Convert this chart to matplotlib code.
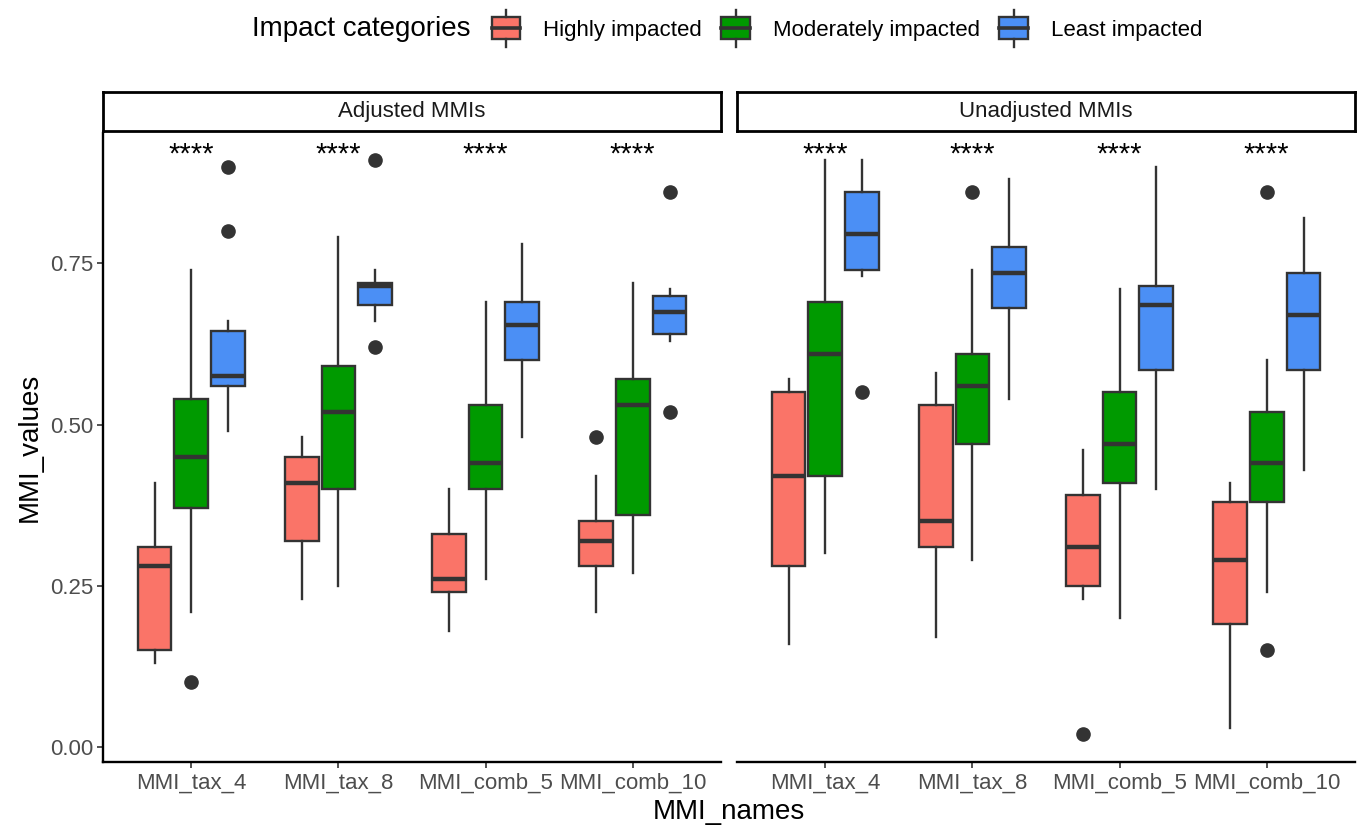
import numpy as np
import matplotlib
matplotlib.use("Agg")
import matplotlib.pyplot as plt
from matplotlib.patches import Rectangle
from matplotlib.lines import Line2D
from matplotlib.legend_handler import HandlerBase

plt.rcParams["font.family"] = ["Liberation Sans", "DejaVu Sans"]

# ---- data ----
mmi_names = ["MMI_tax_4", "MMI_tax_8", "MMI_comb_5", "MMI_comb_10"]
panel_titles = ["Adjusted MMIs", "Unadjusted MMIs"]
categories = ["Highly impacted", "Moderately impacted", "Least impacted"]
cat_colors = ["#FA7468", "#009A00", "#4B8FF5"]
signif = ["****", "****", "****", "****"]

# each row: whisker low, Q1, median, Q3, whisker high (order of mmi_names)
adj_highly = [[0.13, 0.15, 0.28, 0.31, 0.41],
              [0.23, 0.32, 0.41, 0.45, 0.48],
              [0.18, 0.24, 0.26, 0.33, 0.40],
              [0.21, 0.28, 0.32, 0.35, 0.42]]
adj_moderately = [[0.21, 0.37, 0.45, 0.54, 0.74],
                  [0.25, 0.40, 0.52, 0.59, 0.79],
                  [0.26, 0.40, 0.44, 0.53, 0.69],
                  [0.27, 0.36, 0.53, 0.57, 0.72]]
adj_least = [[0.49, 0.56, 0.575, 0.645, 0.66],
             [0.66, 0.685, 0.715, 0.72, 0.74],
             [0.48, 0.60, 0.655, 0.69, 0.78],
             [0.63, 0.64, 0.675, 0.70, 0.71]]
adj_highly_out = [[], [], [], [0.48]]
adj_moderately_out = [[0.10], [], [], []]
adj_least_out = [[0.80, 0.90], [0.62, 0.91], [], [0.52, 0.86]]

unadj_highly = [[0.16, 0.28, 0.42, 0.55, 0.57],
                [0.17, 0.31, 0.35, 0.53, 0.58],
                [0.23, 0.25, 0.31, 0.39, 0.46],
                [0.03, 0.19, 0.29, 0.38, 0.41]]
unadj_moderately = [[0.30, 0.42, 0.61, 0.69, 0.91],
                    [0.29, 0.47, 0.56, 0.61, 0.74],
                    [0.20, 0.41, 0.47, 0.55, 0.71],
                    [0.24, 0.38, 0.44, 0.52, 0.60]]
unadj_least = [[0.73, 0.74, 0.795, 0.86, 0.91],
               [0.54, 0.68, 0.735, 0.775, 0.88],
               [0.40, 0.585, 0.685, 0.715, 0.90],
               [0.43, 0.585, 0.67, 0.735, 0.82]]
unadj_highly_out = [[], [], [0.02], []]
unadj_moderately_out = [[], [0.86], [], [0.15, 0.86]]
unadj_least_out = [[0.55], [], [], []]

panel_stats = [[adj_highly, adj_moderately, adj_least],
               [unadj_highly, unadj_moderately, unadj_least]]
panel_outs = [[adj_highly_out, adj_moderately_out, adj_least_out],
              [unadj_highly_out, unadj_moderately_out, unadj_least_out]]

edge = "#333333"
W, H = 1357, 827
fig = plt.figure(figsize=(W / 100, H / 100), dpi=100)

def fx(px):
    return px / W

def fy(py):
    return 1 - py / H

offsets = [-0.25, 0, 0.25]
panel_left = [103, 737]
pw = 618
for p in range(2):
    ax = fig.add_axes([fx(panel_left[p]), fy(762), fx(pw), fy(133) - fy(762)])
    for c in range(3):
        stats = []
        for m in range(4):
            lo, q1, med, q3, hi = panel_stats[p][c][m]
            stats.append(dict(whislo=lo, q1=q1, med=med, q3=q3, whishi=hi,
                              fliers=panel_outs[p][c][m]))
        pos = np.arange(1, 5) + offsets[c]
        ax.bxp(stats, positions=pos, widths=0.23, patch_artist=True,
               showcaps=False, manage_ticks=False,
               boxprops=dict(facecolor=cat_colors[c], edgecolor=edge, linewidth=1.7),
               medianprops=dict(color=edge, linewidth=3.2),
               whiskerprops=dict(color=edge, linewidth=1.7),
               flierprops=dict(marker="o", markerfacecolor=edge, markeredgecolor=edge,
                               markersize=9.5))
    for m in range(4):
        ax.text(m + 1, 0.919, signif[m], ha="center", va="center", fontsize=21)
    ax.set_xlim(0.4, 4.6)
    ax.set_ylim(-0.0233, 0.952)
    ax.set_xticks(np.arange(1, 5))
    ax.set_xticklabels(mmi_names, fontsize=16, color="#4D4D4D")
    ax.tick_params(axis="x", length=4, width=1.2, color=edge, pad=4)
    for s in ["top", "right"]:
        ax.spines[s].set_visible(False)
    ax.spines["bottom"].set_linewidth(1.7)
    ax.spines["left"].set_linewidth(1.7)
    if p == 0:
        ax.set_yticks([0, 0.25, 0.5, 0.75])
        ax.set_yticklabels(["0.00", "0.25", "0.50", "0.75"], fontsize=16, color="#4D4D4D")
        ax.tick_params(axis="y", length=4, width=1.2, color=edge, pad=3)
    else:
        ax.spines["left"].set_visible(False)
        ax.set_yticks([])

    # facet strip
    sax = fig.add_axes([fx(panel_left[p]), fy(131), fx(pw), fy(92) - fy(131)])
    sax.set_xticks([])
    sax.set_yticks([])
    for s in sax.spines.values():
        s.set_linewidth(2)
        s.set_color("black")
    sax.text(0.5, 0.5, panel_titles[p], ha="center", va="center", fontsize=16,
             color="#1A1A1A", transform=sax.transAxes)

fig.text(fx(30), fy(447), "MMI_values", rotation=90, ha="center", va="center", fontsize=20)
fig.text(fx(729), fy(819), "MMI_names", ha="center", va="baseline", fontsize=20)


class BoxKey(HandlerBase):
    def create_artists(self, legend, orig_handle, xdescent, ydescent, width, height,
                       fontsize, trans):
        cx = -xdescent + width / 2
        y0 = -ydescent
        bw = width * 0.85
        rect = Rectangle((cx - bw / 2, y0), bw, height, facecolor=orig_handle.get_facecolor(),
                         edgecolor=edge, linewidth=1.7, transform=trans)
        med = Line2D([cx - bw / 2, cx + bw / 2], [y0 + height / 2] * 2, color=edge,
                     linewidth=2.6, transform=trans)
        up = Line2D([cx, cx], [y0 + height, y0 + height * 1.35], color=edge,
                    linewidth=1.7, transform=trans)
        dn = Line2D([cx, cx], [y0 - height * 0.35, y0], color=edge, linewidth=1.7,
                    transform=trans)
        return [rect, med, up, dn]


handles = [Rectangle((0, 0), 1, 1, facecolor=col) for col in cat_colors]
fig.legend(handles, categories, handler_map={Rectangle: BoxKey()}, ncol=3,
           loc="center left", bbox_to_anchor=(fx(489), fy(29)), frameon=False,
           fontsize=16, handlelength=1.5, handleheight=1.15, handletextpad=0.95,
           columnspacing=0.75, borderpad=0, borderaxespad=0)
fig.text(fx(470), fy(29), "Impact categories", ha="right", va="center", fontsize=20)

fig.savefig("out.png", dpi=100)
